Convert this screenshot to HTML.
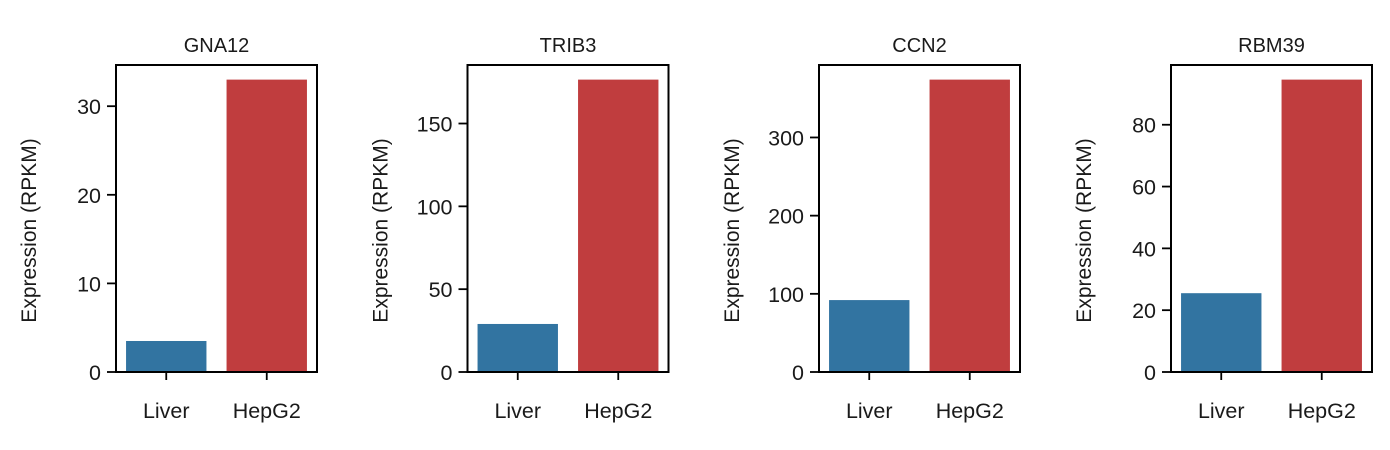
<!DOCTYPE html>
<html><head><meta charset="utf-8"><style>
body{margin:0;background:#fff;}
svg text{font-family:"Liberation Sans",sans-serif;fill:#1a1a1a;}
</style></head><body>
<svg id="chart" width="1390" height="445" xmlns="http://www.w3.org/2000/svg"></svg>
<script>
const genes = ["GNA12","TRIB3","CCN2","RBM39"];
const categories = ["Liver","HepG2"];
const liverValues = [3.5, 29, 92, 25.5];
const hepg2Values = [33, 176.5, 374, 94.6];
const tickSets = [[0,10,20,30],[0,50,100,150],[0,100,200,300],[0,20,40,60,80]];
const colors = ["#3274a1","#c03d3e"];
const NS="http://www.w3.org/2000/svg";
const svgEl=document.getElementById('chart');
function mk(t,a,p){const e=document.createElementNS(NS,t);for(const k in a)e.setAttribute(k,a[k]);(p||svgEl).appendChild(e);return e;}
const lefts=[116,467.5,819,1171], W=201, plotTop=65, plotBottom=372;
genes.forEach((g,i)=>{
  const grp=mk('g',{});
  
  
  const L=lefts[i];
  const vals=[liverValues[i],hepg2Values[i]];
  const ymax=Math.max(...vals)*1.05;
  const y=v=>plotBottom-(v/ymax)*(plotBottom-plotTop);
  const x=c=>L+(c+0.5)/2*W;
  vals.forEach((v,c)=>{
    const r=mk('rect',{x:x(c)-0.4*W/2,y:y(v),width:0.8*W/2,height:plotBottom-y(v),fill:colors[c]},grp);
    
    
    mk('line',{x1:x(c),x2:x(c),y1:plotBottom,y2:plotBottom+8,stroke:'#000','stroke-width':1.8},grp);
    const tl=mk('text',{x:x(c),y:plotBottom+46,'text-anchor':'middle','font-size':21.5},grp);
    tl.textContent=categories[c];
    
    
  });
  tickSets[i].forEach(t=>{
    mk('line',{x1:L-9,x2:L,y1:y(t),y2:y(t),stroke:'#000','stroke-width':1.8},grp);
    const tl=mk('text',{x:L-15,y:y(t)+8,'text-anchor':'end','font-size':21.5},grp);
    tl.textContent=t;
    
    
  });
  const fr=mk('rect',{x:L,y:plotTop,width:W,height:plotBottom-plotTop,fill:'none',stroke:'#000','stroke-width':2},grp);
  
  
  const tt=mk('text',{x:L+W/2,y:52,'text-anchor':'middle','font-size':20},grp);
  tt.textContent=g;
  
  
  const yl=mk('text',{x:0,y:0,'text-anchor':'middle','font-size':21,transform:`translate(${L-80},${(plotTop+plotBottom)/2+12}) rotate(-90)`},grp);
  yl.textContent='Expression (RPKM)';
  
  
});
</script>
</body></html>
